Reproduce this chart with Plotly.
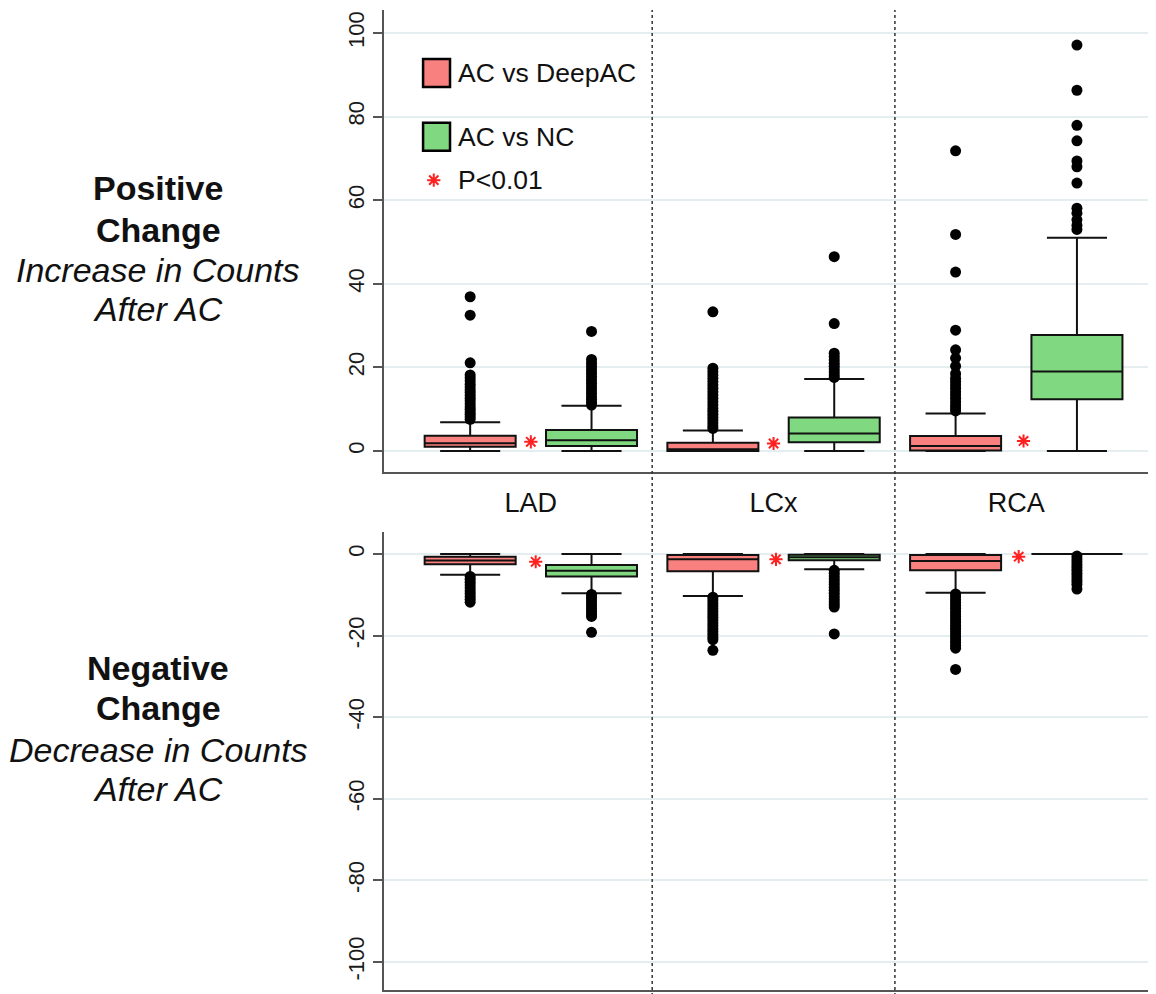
import plotly.graph_objects as go

# ---------------- data ----------------
categories = ["LAD", "LCx", "RCA"]
cat_pos = [0, 1, 2]
red_pos = [-0.25, 0.75, 1.75]
green_pos = [0.25, 1.25, 2.25]

# Positive change (top panel) - AC vs DeepAC (red)
pos_red_q1 = [1.03, 0.0, 0.1]
pos_red_med = [1.84, 0.4, 1.2]
pos_red_q3 = [3.66, 2.0, 3.6]
pos_red_lo = [0.0, 0.0, 0.0]
pos_red_hi = [6.9, 4.9, 9.0]
# Positive change - AC vs NC (green)
pos_green_q1 = [1.2, 2.1, 12.4]
pos_green_med = [2.55, 4.2, 19.0]
pos_green_q3 = [5.0, 8.0, 27.75]
pos_green_lo = [0.0, 0.0, 0.0]
pos_green_hi = [10.8, 17.2, 51.0]

pos_red_out_LAD = [36.9, 32.5, 21.1, 18.2, 17.5, 16.8, 16.0, 15.3, 14.6, 14.0, 13.3,
                   12.6, 12.0, 11.3, 10.6, 10.0, 9.4, 8.8, 8.2, 7.6]
pos_red_out_LCx = [33.3, 19.8, 19.0, 18.2, 17.4, 16.6, 15.8, 15.0, 14.2, 13.4, 12.6,
                   11.8, 11.0, 10.2, 9.5, 8.8, 8.1, 7.4, 6.7, 6.0, 5.4]
pos_red_out_RCA = [71.8, 51.8, 42.8, 28.9, 24.2, 22.2, 20.3, 18.5, 17.4, 16.6, 15.8,
                   15.0, 14.2, 13.4, 12.6, 11.8, 11.0, 10.3, 9.6]
pos_green_out_LAD = [28.6, 21.9, 21.0, 20.2, 19.4, 18.6, 17.8, 17.0, 16.2, 15.4, 14.6,
                     13.8, 13.0, 12.3, 11.6, 11.0]
pos_green_out_LCx = [46.5, 30.5, 23.4, 22.6, 21.8, 21.0, 20.3, 19.6, 18.9, 18.2, 17.6]
pos_green_out_RCA = [97.1, 86.3, 77.9, 74.2, 69.4, 68.0, 64.1, 58.1, 56.9, 55.3, 54.0, 53.0]

# Negative change (bottom panel) - AC vs DeepAC (red)
neg_red_q1 = [-2.5, -4.2, -4.0]
neg_red_med = [-1.6, -1.3, -1.7]
neg_red_q3 = [-0.66, -0.25, -0.25]
neg_red_lo = [-5.1, -10.3, -9.5]
neg_red_hi = [0.0, 0.0, 0.0]
# Negative change - AC vs NC (green)
neg_green_q1 = [-5.5, -1.5, 0.0]
neg_green_med = [-4.1, -0.8, 0.0]
neg_green_q3 = [-2.7, -0.2, 0.0]
neg_green_lo = [-9.6, -3.75, 0.0]
neg_green_hi = [0.0, 0.0, 0.0]

neg_red_out_LAD = [-5.5, -6.2, -6.9, -7.6, -8.3, -9.0, -9.7, -10.4, -11.1, -11.8]
neg_red_out_LCx = [-10.6, -11.3, -12.0, -12.7, -13.4, -14.1, -14.8, -15.5, -16.2, -16.9,
                   -17.6, -18.3, -19.0, -19.7, -20.4, -21.0, -23.6]
neg_red_out_RCA = [-9.8, -10.5, -11.2, -11.9, -12.6, -13.3, -14.0, -14.7, -15.4, -16.1,
                   -16.8, -17.5, -18.2, -18.9, -19.6, -20.3, -21.0, -21.7, -22.4, -23.1, -28.3]
neg_green_out_LAD = [-9.9, -10.6, -11.3, -12.0, -12.7, -13.4, -14.1, -14.8, -15.3, -19.2]
neg_green_out_LCx = [-4.0, -4.7, -5.4, -6.1, -6.8, -7.5, -8.2, -8.9, -9.6, -10.3, -11.0,
                     -11.7, -12.4, -13.0, -19.6]
neg_green_out_RCA = [-0.5, -1.2, -1.9, -2.6, -3.3, -4.0, -4.7, -5.4, -6.1, -6.8, -7.5, -8.6]

# significance stars (P<0.01)
pos_star_x = [0.0, 1.0, 2.03]
pos_star_y = [2.2, 1.8, 2.4]
neg_star_x = [0.02, 1.01, 2.01]
neg_star_y = [-1.9, -1.3, -0.66]

y_ticks_pos = [0, 20, 40, 60, 80, 100]
y_ticks_neg = [0, -20, -40, -60, -80, -100]
y_ticktext_pos = ["0", "20", "40", "60", "80", "100"]
y_ticktext_neg = ["0", "-20", "-40", "-60", "-80", "-100"]

series_names = ["AC vs DeepAC", "AC vs NC"]
RED = "#F8807F"
GREEN = "#80D880"
FONT = "Liberation Sans, Arial, sans-serif"

# ---------------- figure ----------------
fig = go.Figure()


def add_boxes(pos, q1, med, q3, lo, hi, fill, xa, ya, name):
    fig.add_trace(go.Box(
        x=pos, q1=q1, median=med, q3=q3, lowerfence=lo, upperfence=hi,
        width=0.375, whiskerwidth=0.66, fillcolor=fill,
        line=dict(color="#111111", width=2), boxpoints=False,
        name=name, showlegend=False, xaxis=xa, yaxis=ya, hoverinfo="skip"))


def add_outliers(pos, lists, xa, ya):
    xs, ys = [], []
    for p, vals in zip(pos, lists):
        xs += [p] * len(vals)
        ys += vals
    fig.add_trace(go.Scatter(
        x=xs, y=ys, mode="markers", xaxis=xa, yaxis=ya, showlegend=False,
        marker=dict(color="black", size=11, line=dict(width=0)), hoverinfo="skip"))


add_boxes(red_pos, pos_red_q1, pos_red_med, pos_red_q3, pos_red_lo, pos_red_hi, RED, "x", "y", series_names[0])
add_boxes(green_pos, pos_green_q1, pos_green_med, pos_green_q3, pos_green_lo, pos_green_hi, GREEN, "x", "y", series_names[1])
add_outliers(red_pos, [pos_red_out_LAD, pos_red_out_LCx, pos_red_out_RCA], "x", "y")
add_outliers(green_pos, [pos_green_out_LAD, pos_green_out_LCx, pos_green_out_RCA], "x", "y")

add_boxes(red_pos, neg_red_q1, neg_red_med, neg_red_q3, neg_red_lo, neg_red_hi, RED, "x2", "y2", series_names[0])
add_boxes(green_pos, neg_green_q1, neg_green_med, neg_green_q3, neg_green_lo, neg_green_hi, GREEN, "x2", "y2", series_names[1])
add_outliers(red_pos, [neg_red_out_LAD, neg_red_out_LCx, neg_red_out_RCA], "x2", "y2")
add_outliers(green_pos, [neg_green_out_LAD, neg_green_out_LCx, neg_green_out_RCA], "x2", "y2")

star_marker = dict(symbol="asterisk-open", size=11, color="#FF2020",
                   line=dict(color="#FF2020", width=2))
fig.add_trace(go.Scatter(x=pos_star_x, y=pos_star_y, mode="markers", marker=star_marker,
                         xaxis="x", yaxis="y", showlegend=False, hoverinfo="skip"))
fig.add_trace(go.Scatter(x=neg_star_x, y=neg_star_y, mode="markers", marker=star_marker,
                         xaxis="x2", yaxis="y2", showlegend=False, hoverinfo="skip"))

# legend key star
fig.add_trace(go.Scatter(x=[-0.40], y=[64.8], mode="markers", marker=star_marker,
                         xaxis="x", yaxis="y", showlegend=False, hoverinfo="skip"))

W, H = 1156, 994
OFF = 8  # page body margin


def fx(px):
    return (px - OFF) / W


def fy(px):
    return 1 - (px - OFF) / H


XDOM = [fx(384), fx(1150)]
XR = [-0.605, 2.551]
AX = "#555555"
GRID = "#E4EEF1"

fig.update_layout(
    width=W, height=H, autosize=False,
    margin=dict(l=0, r=0, t=0, b=0),
    paper_bgcolor="white", plot_bgcolor="white",
    font=dict(family=FONT, color="#111111"),
    showlegend=False,
    xaxis=dict(domain=XDOM, range=XR, anchor="y", tickvals=cat_pos, ticktext=categories,
               ticks="", showgrid=False, zeroline=False, showline=True, linecolor=AX,
               linewidth=2, tickfont=dict(size=27, family=FONT, color="#111111"),
               ticklabelstandoff=6),
    yaxis=dict(domain=[fy(472), fy(10)], range=[-5.02, 105.5], anchor="x",
               tickvals=y_ticks_pos, ticktext=y_ticktext_pos, tickangle=-90,
               ticks="outside", ticklen=9,
               tickwidth=2, tickcolor=AX, showline=True, linecolor=AX, linewidth=2,
               showgrid=True, gridcolor=GRID, gridwidth=2, zeroline=False,
               tickfont=dict(size=22, family=FONT, color="#1A1A1A")),
    xaxis2=dict(domain=XDOM, range=XR, anchor="y2", showticklabels=False, ticks="",
                showgrid=False, zeroline=False, showline=True, linecolor=AX, linewidth=2),
    yaxis2=dict(domain=[fy(990), fy(532)], range=[-106.9, 5.4], anchor="x2",
                tickvals=y_ticks_neg, ticktext=y_ticktext_neg, tickangle=-90,
                ticks="outside", ticklen=9,
                tickwidth=2, tickcolor=AX, showline=True, linecolor=AX, linewidth=2,
                showgrid=True, gridcolor=GRID, gridwidth=2, zeroline=False,
                tickfont=dict(size=22, family=FONT, color="#1A1A1A")),
)

# dotted group dividers spanning both panels
for xv in [0.5, 1.5]:
    fig.add_shape(type="line", xref="x", yref="paper", x0=xv, x1=xv, y0=0, y1=fy(10),
                  line=dict(color="#333333", width=1.5, dash="dot"))

# legend keys
fig.add_shape(type="rect", xref="x", yref="y", x0=-0.444, x1=-0.333, y0=87.1, y1=93.8,
              fillcolor=RED, line=dict(color="black", width=2.5))
fig.add_shape(type="rect", xref="x", yref="y", x0=-0.444, x1=-0.333, y0=71.8, y1=78.5,
              fillcolor=GREEN, line=dict(color="black", width=2.5))
for txt, yv in [(series_names[0], 90.4), (series_names[1], 75.1), ("P<0.01", 64.8)]:
    fig.add_annotation(text=txt, xref="x", yref="y", x=-0.31, y=yv, xanchor="left",
                       yanchor="middle", showarrow=False,
                       font=dict(size=26.5, family=FONT, color="#111111"))

# left-side panel titles
left_lines = [
    ("<b>Positive</b>", 188), ("<b>Change</b>", 230),
    ("<i>Increase in Counts</i>", 270), ("<i>After AC</i>", 309),
    ("<b>Negative</b>", 668), ("<b>Change</b>", 708),
    ("<i>Decrease in Counts</i>", 750), ("<i>After AC</i>", 789),
]
for txt, ypx in left_lines:
    fig.add_annotation(text=txt, xref="paper", yref="paper", x=fx(158), y=fy(ypx),
                       xanchor="center", yanchor="middle", showarrow=False,
                       font=dict(size=34, family=FONT, color="#111111"))

fig.write_html("out.html")
